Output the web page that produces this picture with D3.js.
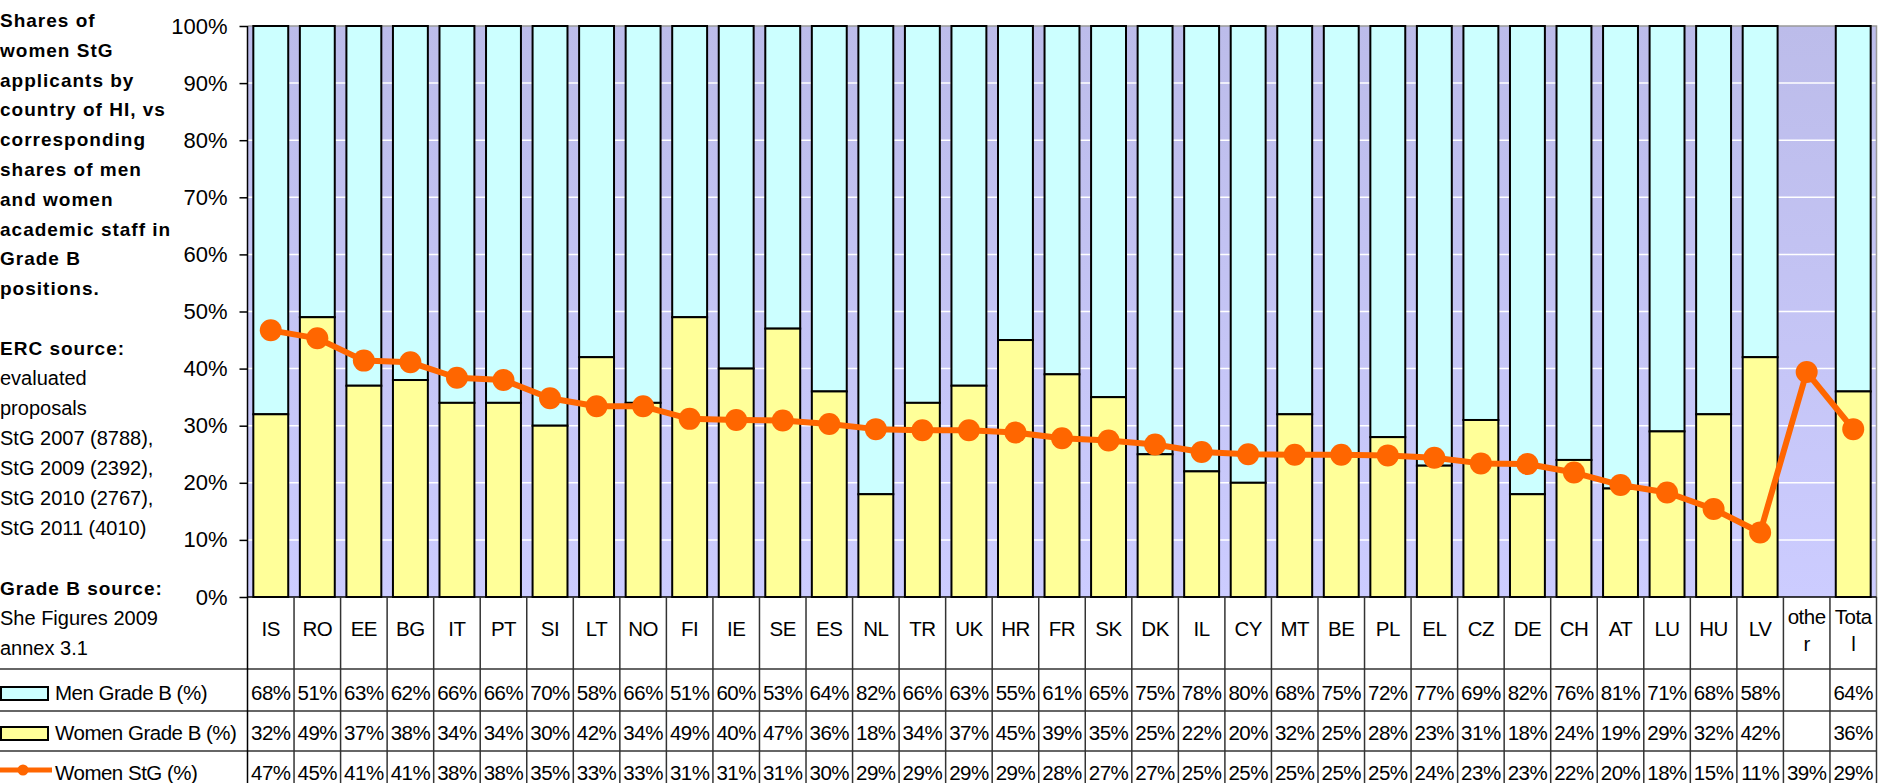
<!DOCTYPE html>
<html>
<head>
<meta charset="utf-8">
<script src="https://cdn.jsdelivr.net/npm/d3@7"></script>
<style>
  body { margin: 0; background: #fff; }
  svg text { font-family: "Liberation Sans", Arial, sans-serif; fill: #000; }
  .title { font-weight: bold; font-size: 19px; letter-spacing: 1px; }
  .note { font-size: 20px; }
  .cell { font-size: 20.5px; letter-spacing: -0.5px; }
</style>
</head>
<body>
<svg id="chart" width="1880" height="783"></svg>
<script>
(function () {
    // categories (country of host institution)
    var countries = ["IS","RO","EE","BG","IT","PT","SI","LT","NO","FI","IE","SE","ES","NL","TR","UK","HR","FR","SK","DK","IL","CY","MT","BE","PL","EL","CZ","DE","CH","AT","LU","HU","LV","other","Total"];
    var menGradeB   = [68,51,63,62,66,66,70,58,66,51,60,53,64,82,66,63,55,61,65,75,78,80,68,75,72,77,69,82,76,81,71,68,58,null,64];
    var womenGradeB = [32,49,37,38,34,34,30,42,34,49,40,47,36,18,34,37,45,39,35,25,22,20,32,25,28,23,31,18,24,19,29,32,42,null,36];
    var womenStG    = [46.7,45.3,41.4,41.1,38.4,38.0,34.8,33.4,33.4,31.2,31.0,30.9,30.3,29.4,29.2,29.2,28.8,27.8,27.4,26.7,25.4,25.0,24.9,24.9,24.8,24.4,23.4,23.3,21.8,19.6,18.3,15.4,11.3,39.4,29.4];
    var yTicks = [0,0.1,0.2,0.3,0.4,0.5,0.6,0.7,0.8,0.9,1];

    var titleLines = ["Shares of","women StG","applicants by","country of HI, vs","corresponding","shares of men","and women","academic staff in","Grade B","positions."];

    var left = 247.5, right = 1876.5, top = 26, bottom = 597;
    var rowY = [669, 711, 751]; // table row borders

    var svg = d3.select("#chart");

    var xCell = d3.scaleBand().domain(countries).range([left, right]).padding(0);
    var xBar = d3.scaleBand().domain(countries).range([left, right])
        .paddingInner(0.25).paddingOuter(0.125);
    var y = d3.scaleLinear().domain([0, 1]).range([bottom, top]);

    // plot background gradient
    var grad = svg.append("defs").append("linearGradient")
        .attr("id", "bg").attr("x1", 0).attr("y1", 0).attr("x2", 0).attr("y2", 1);
    grad.append("stop").attr("offset", "0%").attr("stop-color", "#bcbcea");
    grad.append("stop").attr("offset", "100%").attr("stop-color", "#ccccff");

    svg.append("rect")
        .attr("x", left).attr("y", top)
        .attr("width", right - left).attr("height", bottom - top)
        .attr("fill", "url(#bg)");

    // white gridlines
    svg.append("g")
        .selectAll("line")
        .data(yTicks.slice(1, -1))
        .join("line")
        .attr("x1", left).attr("x2", right)
        .attr("y1", d => y(d)).attr("y2", d => y(d))
        .attr("stroke", "#fff").attr("stroke-width", 1.5);

    // top and right border
    svg.append("path")
        .attr("d", `M${left},${top}H${right}V${bottom}`)
        .attr("fill", "none").attr("stroke", "#999").attr("stroke-width", 1.5);

    // stacked bars
    var bars = svg.append("g");
    countries.forEach(function (c, i) {
        if (womenGradeB[i] == null) return;
        var w = womenGradeB[i] / 100, m = menGradeB[i] / 100;
        bars.append("rect")
            .attr("x", xBar(c)).attr("width", xBar.bandwidth())
            .attr("y", y(w + m)).attr("height", y(w) - y(w + m))
            .attr("fill", "#ccffff").attr("stroke", "#000").attr("stroke-width", 2);
        bars.append("rect")
            .attr("x", xBar(c)).attr("width", xBar.bandwidth())
            .attr("y", y(w)).attr("height", y(0) - y(w))
            .attr("fill", "#ffff99").attr("stroke", "#000").attr("stroke-width", 2);
    });

    // y axis
    svg.append("g")
        .attr("transform", `translate(${left},0)`)
        .call(d3.axisLeft(y).tickValues(yTicks).tickFormat(d3.format(".0%")).tickSize(8).tickPadding(12))
        .call(g => g.select(".domain").remove())
        .call(g => g.selectAll(".tick line").attr("stroke", "#000").attr("stroke-width", 1.5))
        .call(g => g.selectAll(".tick text").attr("font-size", "22px")
            .attr("font-family", '"Liberation Sans", Arial, sans-serif'));

    // women StG line
    var line = d3.line()
        .x((d, i) => xCell(countries[i]) + xCell.bandwidth() / 2)
        .y(d => y(d / 100));
    svg.append("path")
        .datum(womenStG)
        .attr("d", line)
        .attr("fill", "none").attr("stroke", "#ff6600").attr("stroke-width", 6)
        .attr("stroke-linejoin", "round");
    svg.append("g")
        .selectAll("circle")
        .data(womenStG)
        .join("circle")
        .attr("cx", (d, i) => xCell(countries[i]) + xCell.bandwidth() / 2)
        .attr("cy", d => y(d / 100))
        .attr("r", 11)
        .attr("fill", "#ff6600");

    // data table grid
    var grid = svg.append("g").attr("stroke", "#333").attr("stroke-width", 1.5);
    grid.append("line").attr("x1", left).attr("x2", right).attr("y1", bottom).attr("y2", bottom)
        .attr("stroke", "#000");
    rowY.forEach(function (ry) {
        grid.append("line").attr("x1", 0).attr("x2", right).attr("y1", ry).attr("y2", ry);
    });
    grid.append("line").attr("x1", left).attr("x2", left).attr("y1", top).attr("y2", 783)
        .attr("stroke", "#000");
    countries.forEach(function (c) {
        grid.append("line")
            .attr("x1", xCell(c) + xCell.bandwidth()).attr("x2", xCell(c) + xCell.bandwidth())
            .attr("y1", bottom).attr("y2", 783);
    });

    // category labels
    var cats = svg.append("g");
    countries.forEach(function (c) {
        var cx = xCell(c) + xCell.bandwidth() / 2;
        var t = cats.append("text").attr("class", "cell")
            .attr("text-anchor", "middle").attr("x", cx);
        if (c.length > 4) {
            t.append("tspan").attr("x", cx).attr("y", 624).text(c.slice(0, 4));
            t.append("tspan").attr("x", cx).attr("y", 651).text(c.slice(4));
        } else {
            t.attr("y", 636).text(c);
        }
    });

    // table values
    var rows = [menGradeB, womenGradeB, womenStG];
    var rowText = [700, 740, 780];
    rows.forEach(function (vals, r) {
        svg.append("g")
            .selectAll("text")
            .data(vals)
            .join("text")
            .attr("class", "cell")
            .attr("text-anchor", "middle")
            .attr("x", (d, i) => xCell(countries[i]) + xCell.bandwidth() / 2)
            .attr("y", rowText[r])
            .text(d => d == null ? "" : Math.round(d) + "%");
    });

    // legend keys in the table
    var legendNames = ["Men Grade B (%)", "Women Grade B (%)", "Women StG (%)"];
    svg.append("rect").attr("x", 1).attr("y", 687).attr("width", 47).attr("height", 13)
        .attr("fill", "#ccffff").attr("stroke", "#000").attr("stroke-width", 2);
    svg.append("rect").attr("x", 1).attr("y", 727).attr("width", 47).attr("height", 13)
        .attr("fill", "#ffff99").attr("stroke", "#000").attr("stroke-width", 2);
    svg.append("line").attr("x1", 0).attr("x2", 52).attr("y1", 770).attr("y2", 770)
        .attr("stroke", "#ff6600").attr("stroke-width", 5);
    svg.append("circle").attr("cx", 23).attr("cy", 770).attr("r", 5.5).attr("fill", "#ff6600");
    legendNames.forEach(function (n, i) {
        svg.append("text").attr("class", "cell")
            .attr("x", 55).attr("y", rowText[i]).text(n);
    });

    // left-hand notes
    var notes = svg.append("g");
    titleLines.forEach(function (l, i) {
        notes.append("text").attr("class", "title").attr("x", 0).attr("y", 27 + i * 29.8).text(l);
    });
    notes.append("text").attr("class", "title").attr("x", 0).attr("y", 355).text("ERC source:");
    ["evaluated", "proposals", "StG 2007 (8788),", "StG 2009 (2392),", "StG 2010 (2767),", "StG 2011 (4010)"]
        .forEach(function (l, i) {
            notes.append("text").attr("class", "note").attr("x", 0).attr("y", 385 + i * 30).text(l);
        });
    notes.append("text").attr("class", "title").attr("x", 0).attr("y", 595).text("Grade B source:");
    ["She Figures 2009", "annex 3.1"].forEach(function (l, i) {
        notes.append("text").attr("class", "note").attr("x", 0).attr("y", 625 + i * 29.5).text(l);
    });
})();
</script>
</body>
</html>
